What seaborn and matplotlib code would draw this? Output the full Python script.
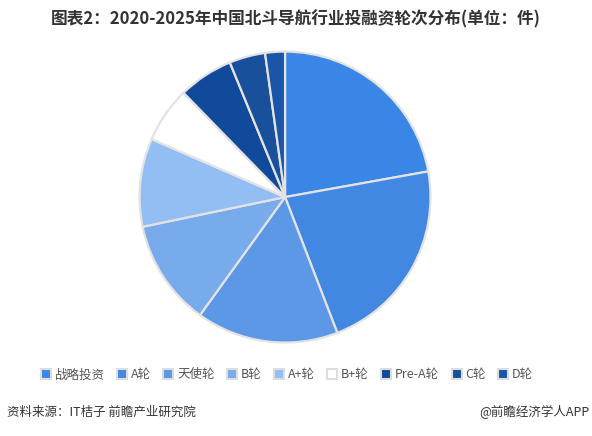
import matplotlib
matplotlib.use("Agg")
import matplotlib.pyplot as plt
import matplotlib.patches as mpatches
import seaborn as sns

# values (share of deals, %)
rounds = ["战略投资", "A轮", "天使轮", "B轮", "A+轮", "B+轮", "Pre-A轮", "C轮", "D轮"]
shares = [22.2, 22.0, 15.8, 11.8, 9.8, 6.2, 6.1, 4.0, 2.2]
colors = ["#3A86E6", "#4288E2", "#5C98E6", "#78ABEC", "#93BEF3",
          "#FFFFFF", "#114A9A", "#18509C", "#1A55AA"]

sns.set_theme(style="white")
plt.rcParams["font.family"] = ["Noto Sans CJK SC", "DejaVu Sans"]

fig = plt.figure(figsize=(5.92, 4.36), dpi=100)
fig.patch.set_facecolor("white")

ax = fig.add_axes([0.233, 0.211, 0.497, 0.674])
ax.pie(shares, colors=colors, startangle=90, counterclock=False,
       wedgeprops=dict(edgecolor="#E3E3E3", linewidth=1.6))
ax.set_xlim(-1.01, 1.01)
ax.set_ylim(-1.01, 1.01)
ax.set_aspect("equal")
ax.axis("off")

fig.text(0.5, 0.955, "图表2：2020-2025年中国北斗导航行业投融资轮次分布(单位：件)",
         ha="center", va="center", fontsize=12, fontweight="bold", color="#333333")

handles = [mpatches.Patch(facecolor=c, edgecolor="#DDDDDD", linewidth=1.5, label=r)
           for c, r in zip(colors, rounds)]
fig.legend(handles=handles, loc="center", bbox_to_anchor=(0.485, 0.14), ncol=9,
           frameon=False, fontsize=9, handlelength=0.8, handleheight=0.8,
           handletextpad=0.3, columnspacing=1.0, labelcolor="#555555")

fig.text(0.012, 0.055, "资料来源：IT桔子 前瞻产业研究院", ha="left", va="center",
         fontsize=9, color="#333333")
fig.text(0.995, 0.055, "@前瞻经济学人APP", ha="right", va="center",
         fontsize=9, color="#333333")

fig.savefig("out.png", dpi=100)
